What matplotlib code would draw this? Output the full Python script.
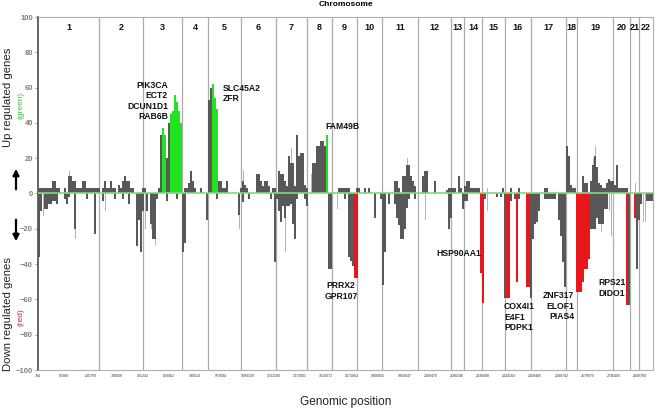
import numpy as np
import matplotlib
matplotlib.use("Agg")
import matplotlib.pyplot as plt

plt.rcParams['font.family'] = ['Liberation Sans', 'DejaVu Sans']

# ---------------- data (one value per genomic bin) ----------------
up_counts = [
    3, 3, 3, 3, 3, 3, 3, 7, 7, 3,
    3, 0, 0, 3, 0, 10, 10, 7, 7, 3,
    3, 3, 7, 7, 3, 3, 3, 3, 3, 3,
    3, 0, 3, 7, 3, 3, 7, 3, 3, 0,
    5, 3, 7, 10, 7, 7, 3, 3, 0, 0,
    0, 0, 3, 3, 0, 0, 0, 0, 0, 0,
    3, 33, 37, 33, 20, 40, 45, 47, 56, 52,
    47, 40, 0, 3, 3, 6, 13, 7, 3, 0,
    0, 3, 0, 0, 0, 53, 60, 62, 54, 48,
    7, 7, 3, 3, 7, 0, 0, 0, 0, 0,
    0, 3, 7, 5, 3, 0, 0, 0, 0, 11,
    11, 7, 4, 7, 7, 4, 0, 3, 3, 0,
    13, 11, 11, 7, 4, 21, 17, 17, 4, 33,
    21, 23, 23, 5, 3, 0, 0, 17, 17, 27,
    27, 30, 30, 27, 33, 0, 0, 0, 0, 0,
    3, 3, 3, 3, 3, 3, 0, 0, 0, 3,
    3, 0, 0, 3, 0, 3, 0, 0, 0, 0,
    0, 0, 0, 0, 0, 0, 0, 0, 7, 7,
    3, 0, 10, 10, 16, 16, 10, 7, 4, 0,
    0, 0, 10, 13, 13, 0, 0, 0, 7, 0,
    0, 0, 0, 0, 2, 3, 3, 3, 3, 0,
    10, 3, 0, 4, 7, 7, 3, 3, 3, 3,
    3, 0, 0, 0, 0, 0, 0, 0, 0, 0,
    0, 0, 3, 0, 0, 0, 3, 0, 0, 0,
    3, 0, 0, 0, 0, 0, 0, 0, 0, 0,
    0, 0, 0, 3, 3, 0, 0, 0, 0, 0,
    0, 0, 0, 0, 27, 21, 5, 3, 3, 0,
    0, 0, 10, 6, 6, 0, 7, 16, 21, 15,
    6, 5, 3, 3, 6, 8, 7, 7, 5, 16,
    3, 3, 3, 3, 3, 0, 0, 0, 0, 0,
    0, 0, 0, 0, 0, 0, 0, 0,
]

down_counts = [
    -36, -10, 0, -9, -9, -6, -6, -4, -4, -6,
    0, 0, 0, -3, -6, -2, 0, 0, -20, 0,
    0, 0, 0, 0, -3, 0, 0, 0, -23, 0,
    0, 0, -4, 0, 0, 0, 0, 0, -3, 0,
    0, 0, -3, 0, 0, -6, 0, 0, 0, -30,
    -15, -33, -10, 0, -10, 0, -17, -26, -26, -3,
    0, 0, 0, 0, -4, 0, 0, 0, 0, -3,
    0, 0, -33, -28, 0, 0, 0, 0, 0, 0,
    0, 0, 0, 0, -15, 0, 0, 0, 0, -3,
    0, 0, 0, 0, 0, 0, 0, 0, 0, 0,
    -12, 0, -5, 0, 0, -3, 0, 0, 0, 0,
    0, 0, 0, 0, 0, 0, -3, 0, -39, -3,
    -10, -16, -7, -14, -7, -7, -6, -17, -26, -3,
    0, 0, 0, -3, -7, 0, 0, 0, 0, 0,
    0, 0, 0, 0, 0, -43, -43, 0, 0, 0,
    0, 0, 0, -3, 0, -36, -38, -41, -48, -48,
    0, 0, 0, 0, 0, 0, 0, 0, -14, 0,
    0, -3, -52, -33, 0, -6, 0, 0, -6, -14,
    -18, -26, -26, -20, -8, -3, 0, 0, -3, 0,
    0, 0, 0, 0, 0, 0, 0, 0, 0, 0,
    0, 0, 0, 0, 0, -20, -14, 0, 0, 0,
    0, 0, -9, -4, -4, 0, 0, 0, 0, 0,
    0, -45, -62, -3, 0, 0, 0, 0, 0, -2,
    0, -2, 0, -59, -59, -59, -4, 0, -3, -50,
    -3, 0, 0, 0, -53, -53, -59, -26, -17, -16,
    -10, 0, 0, -3, -3, -3, -3, -3, -3, 0,
    -15, -24, -39, -53, 0, 0, 0, 0, 0, -56,
    -56, -56, -50, -43, -43, -37, -20, -20, -20, -14,
    -17, -17, -17, -9, -9, 0, 0, 0, 0, 0,
    0, 0, 0, 0, -63, -63, 0, 0, -14, -43,
    -15, -6, 0, 0, -4, -4, -4, -4,
]

# thinner, lighter (secondary) bars
light_up = {15: 13, 102: 13, 126: 26, 136: 11, 184: 20, 224: 3, 277: 20, 278: 27, 298: 6}
light_down = {2: -13, 18: -26, 33: -10, 53: -20, 56: -20, 58: -29, 100: -20, 123: -33,
              149: -9, 193: -15, 224: -10, 281: -22, 285: -10, 286: -24, 287: -29,
              302: -16, 303: -16}

# significantly up (green) / down (red) regulated bins
green_bins = [62, 63, 66, 67, 68, 69, 70, 71, 87, 88, 89, 144]
red_bins = [158, 159, 221, 222, 234, 235, 239, 244, 245, 269, 270, 271, 272, 273,
            274, 275, 294, 298]

chromosomes = [str(i) for i in range(1, 23)]
chrom_bounds = [0, 30.5, 52.5, 72, 85, 101.5, 119, 134.5, 147, 159.5, 172, 190,
                206.5, 213, 222, 233.5, 246.5, 264, 269.5, 287.5, 296, 300.5, 307.5]

position_labels = ['794', '92368', '205709', '340009', '491242', '629062', '780514',
                   '973584', '1090339', '1232180', '1373001', '1533072', '1672064',
                   '1808055', '1903647', '2009476', '2180246', '2336088', '2424103',
                   '2509466', '2580742', '2679975', '2736405', '2849760']

gene_labels = [
    ("PIK3CA\nECT2\nDCUN1D1\nRAB6B", 65, 63.8, 'right'),
    ("SLC45A2\nZFR", 92.5, 62.0, 'left'),
    ("FAM49B", 143.5, 40.5, 'left'),
    ("PRRX2\nGPR107", 151.5, -49.7, 'center'),
    ("HSP90AA1", 221.5, -31.3, 'right'),
    ("COX4I1\nE4F1\nPDPK1", 233, -61.6, 'left'),
    ("ZNF317\nELOF1\nPIAS4", 268, -55.4, 'right'),
    ("RPS21\nDIDO1", 287, -48.0, 'center'),
]

# ---------------- plotting ----------------
DARK = '#585858'
LIGHT = '#b4b4b4'
GREEN = '#22e322'
RED = '#e8171c'

W, H = 661, 411
fig = plt.figure(figsize=(W / 100, H / 100), dpi=100)
ax = fig.add_axes([38 / W, (H - 370) / H, 615 / W, 353 / H])

n = len(up_counts)
x = np.arange(n)
up = np.array(up_counts, dtype=float)
down = np.array(down_counts, dtype=float)

up_colors = [GREEN if i in green_bins else DARK for i in range(n)]
down_colors = [RED if i in red_bins else DARK for i in range(n)]
up_w = [1.0 if i in green_bins else 0.8 for i in range(n)]
down_w = [1.0 if i in red_bins else 0.8 for i in range(n)]

# chromosome separators
ax.vlines(chrom_bounds[1:-1], -100, 100, color='#ababab', lw=0.9, zorder=1)

# light thin bars
lk = np.array(list(light_up.keys()))
ax.bar(lk + 0.25, list(light_up.values()), width=0.5, align='edge', color=LIGHT,
       linewidth=0, zorder=2)
lk = np.array(list(light_down.keys()))
ax.bar(lk + 0.25, list(light_down.values()), width=0.5, align='edge', color=LIGHT,
       linewidth=0, zorder=2)

ax.bar(x, up, width=up_w, align='edge', color=up_colors, linewidth=0, zorder=3)
ax.bar(x, down, width=down_w, align='edge', color=down_colors, linewidth=0, zorder=3)

ax.axhline(0, color='#80d880', lw=1.2, zorder=4)

ax.set_xlim(chrom_bounds[0], chrom_bounds[-1])
ax.set_ylim(-100, 100)

# chromosome numbers
for i, name in enumerate(chromosomes):
    cx = (chrom_bounds[i] + chrom_bounds[i + 1]) / 2
    ax.text(cx, 94, name, ha='center', va='center', fontsize=6.5, fontweight='bold',
            color='#111111')

# gene labels
for txt, gx, gy, ha in gene_labels:
    ax.text(gx, gy, txt, ha=ha, va='top', fontsize=6.2, fontweight='bold',
            linespacing=1.2, color='#111111', multialignment=ha, zorder=5)

# axes styling
for s in ['top', 'right', 'bottom']:
    ax.spines[s].set_color('#b0b0b0')
    ax.spines[s].set_linewidth(0.8)
ax.spines['left'].set_color('#5a5a5a')
ax.spines['left'].set_linewidth(1.3)

ax.set_yticks(np.arange(-100, 101, 20))
ax.tick_params(axis='y', length=2, width=0.6, color='#888888', labelsize=5.5,
               labelcolor='#808080', pad=1.5)
for lab in ax.get_yticklabels():
    lab.set_fontweight('bold')

ax.set_xticks(np.linspace(0, 301, len(position_labels)))
ax.set_xticklabels(position_labels)
ax.tick_params(axis='x', length=0, labelsize=2.6, labelcolor='#333333', pad=3)

# titles and axis labels
fig.text(345.5 / W, 1 - 5 / H, 'Chromosome', ha='center', va='center', fontsize=6,
         fontweight='bold')
fig.text(345.5 / W, 1 - 402 / H, 'Genomic position', ha='center', va='center',
         fontsize=8.5, color='#222222')
fig.text(8 / W, 1 - 97 / H, 'Up regulated genes', rotation=90, ha='center', va='center',
         fontsize=8.2, color='#222222')
fig.text(21 / W, 1 - 105 / H, '(green)', rotation=90, ha='center', va='center',
         fontsize=6, color='#33cc33')
fig.text(8 / W, 1 - 314 / H, 'Down regulated genes', rotation=90, ha='center',
         va='center', fontsize=8.2, color='#222222')
fig.text(21 / W, 1 - 317 / H, '(red)', rotation=90, ha='center', va='center',
         fontsize=6, color='#dd2222')

# arrows
fig.add_artist(matplotlib.patches.FancyArrowPatch(
    (16 / W, 1 - 192 / H), (16 / W, 1 - 166 / H), transform=fig.transFigure,
    arrowstyle='-|>', mutation_scale=9, color='black', lw=1.6))
fig.add_artist(matplotlib.patches.FancyArrowPatch(
    (16 / W, 1 - 217 / H), (16 / W, 1 - 244 / H), transform=fig.transFigure,
    arrowstyle='-|>', mutation_scale=9, color='black', lw=1.6))

fig.savefig('out.png', dpi=100)
